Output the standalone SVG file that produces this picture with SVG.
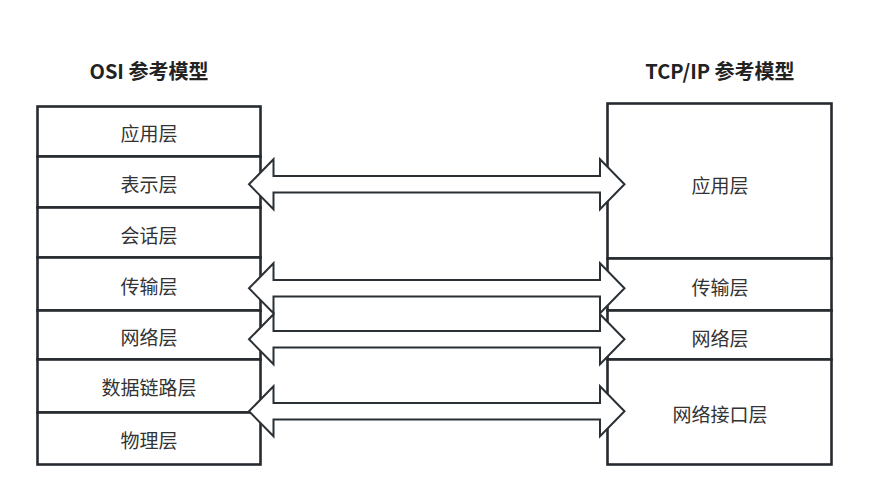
<svg xmlns="http://www.w3.org/2000/svg" width="869" height="502" viewBox="0 0 869 502">
<style>
.box{fill:#fff;stroke:#262b30;stroke-width:2.6}
.lbl{font-family:"Noto Sans CJK SC","Microsoft YaHei",sans-serif;font-size:19px;fill:#333;text-anchor:middle;dominant-baseline:central}
.ttl{font-family:"Noto Sans CJK SC",sans-serif;font-size:20px;font-weight:bold;fill:#222;text-anchor:middle;dominant-baseline:central}
.arr{fill:#fff;stroke:#2b3035;stroke-width:2;stroke-linejoin:miter}
</style>
<defs>
<path id="dbl" d="M249,0 L273.5,-25 L273.5,-8.3 L600,-8.3 L600,-25 L624.5,0 L600,25 L600,8.3 L273.5,8.3 L273.5,25 Z"/>
</defs>
<text class="ttl" x="149" y="70">OSI 参考模型</text>
<text class="ttl" x="720" y="70">TCP/IP 参考模型</text>
<g id="osi-app"><rect class="box" x="37.5" y="106.5" width="223" height="50"/><text class="lbl" x="149" y="132">应用层</text></g>
<g id="osi-pres"><rect class="box" x="37.5" y="156.5" width="223" height="51"/><text class="lbl" x="149" y="183">表示层</text></g>
<g id="osi-sess"><rect class="box" x="37.5" y="207.5" width="223" height="50"/><text class="lbl" x="149" y="234">会话层</text></g>
<g id="osi-trans"><rect class="box" x="37.5" y="257.5" width="223" height="53"/><text class="lbl" x="149" y="285">传输层</text></g>
<g id="osi-net"><rect class="box" x="37.5" y="310.5" width="223" height="49"/><text class="lbl" x="149" y="336">网络层</text></g>
<g id="osi-link"><rect class="box" x="37.5" y="359.5" width="223" height="53"/><text class="lbl" x="149" y="386">数据链路层</text></g>
<g id="osi-phy"><rect class="box" x="37.5" y="412.5" width="223" height="52"/><text class="lbl" x="149" y="439">物理层</text></g>
<g id="tcp-app"><rect class="box" x="607.5" y="103.5" width="224" height="155"/><text class="lbl" x="720" y="184">应用层</text></g>
<g id="tcp-trans"><rect class="box" x="607.5" y="258.5" width="224" height="52"/><text class="lbl" x="720" y="286">传输层</text></g>
<g id="tcp-net"><rect class="box" x="607.5" y="310.5" width="224" height="49"/><text class="lbl" x="720" y="337">网络层</text></g>
<g id="tcp-link"><rect class="box" x="607.5" y="359.5" width="224" height="105"/><text class="lbl" x="720" y="413">网络接口层</text></g>
<g id="connectors">
<use href="#dbl" class="arr" transform="translate(0,184.3)"/>
<use href="#dbl" class="arr" transform="translate(0,288.3)"/>
<use href="#dbl" class="arr" transform="translate(0,339.3)"/>
<use href="#dbl" class="arr" transform="translate(0,411.3)"/>
</g>
</svg>
